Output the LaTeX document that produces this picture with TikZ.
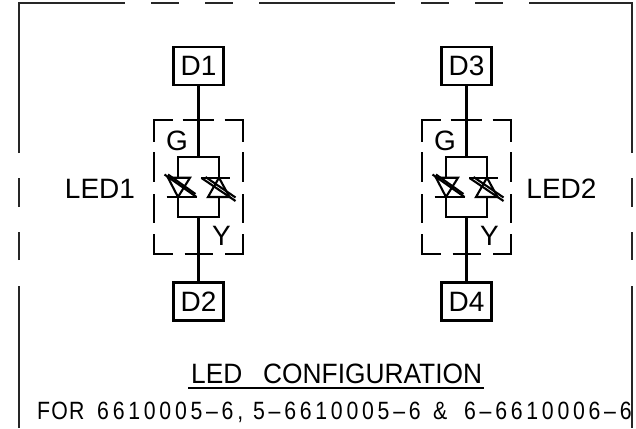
\documentclass[tikz,border=0pt]{standalone}
\usepackage{fontspec}
\setmainfont{Liberation Sans}
\newfontfamily\cadtitle[FakeStretch=0.94]{Liberation Sans}
\newfontfamily\cadsub[FakeStretch=0.85,LetterSpace=15]{Liberation Sans}
\newfontfamily\cadfor[FakeStretch=0.85,LetterSpace=5]{Liberation Sans}
\tikzset{
  wire/.style={draw=black,line width=2.1pt},
  frameline/.style={line width=2.1pt,black!85},
  pinbox/.style={draw=black,line width=2.1pt,minimum width=50pt,minimum height=38pt,inner sep=0pt,font=\fontsize{28}{28}\selectfont},
  lbl/.style={inner sep=0pt,font=\fontsize{28}{28}\selectfont},
  dashedbox/.style={line width=2.1pt,black}
}
\newcommand{\ledcell}[5]{%
 \begin{scope}[shift={(#1,0)}]
  \node[pinbox] (#2) at (0,65.8) {#4};
  \node[pinbox] (#3) at (0,301.5) {#5};
  \coordinate (#2t) at (0,157);
  \coordinate (#2b) at (0,217);
  \draw[wire] (#2.south) -- (#2t);
  \draw[wire] (#3.north) -- (#2b);
  \draw[wire] (-20.5,177.7) -- (-20.5,157) -- (20.5,157) -- (20.5,177.7);
  \draw[wire] (-20.5,197) -- (-20.5,217) -- (20.5,217) -- (20.5,197);
  % left diode
  \draw[wire] (-30.5,177.7) -- (-8.5,177.7) -- (-20.5,197) -- cycle;
  \draw[wire] (-32,197) -- (-1.5,197);
  \draw[wire] (-34,174.5) -- (-2,197);
  \draw[wire] (-30.5,174.5) -- (-3,194);
  % right diode
  \draw[wire] (9.5,197) -- (31,197) -- (20.5,177.7) -- cycle;
  \draw[wire] (2.5,177.7) -- (31,177.7);
  \draw[wire] (3,178) -- (37,201);
  \draw[wire] (7,177) -- (37,197.5);
  % dashed enclosure
  \draw[dashedbox] (-26,120) -- (-44.5,120) -- (-44.5,142);
  \draw[dashedbox] (-16,120) -- (15,120);
  \draw[dashedbox] (26,120) -- (44.5,120) -- (44.5,142);
  \draw[dashedbox] (-44.5,152) -- (-44.5,182) (-44.5,194) -- (-44.5,223);
  \draw[dashedbox] (44.5,152) -- (44.5,182) (44.5,194) -- (44.5,223);
  \draw[dashedbox] (-44.5,234) -- (-44.5,254) -- (-26,254);
  \draw[dashedbox] (44.5,234) -- (44.5,254) -- (26,254);
  \draw[dashedbox] (-14,254) -- (14,254);
  \node[lbl] (#2g) at (-21.5,140.5) {G};
  \node[lbl] (#2y) at (23,236.3) {Y};
 \end{scope}}
\begin{document}
\begin{tikzpicture}[x=1pt,y=-1pt]
\useasboundingbox (0,0) rectangle (636,428);
\ledcell{198.5}{da}{db}{D1}{D2}
\ledcell{466.5}{dc}{dd}{D3}{D4}
\node[lbl] (ledone) at (100,189) {LED1};
\node[lbl] (ledtwo) at (561.5,189) {LED2};
\draw[frameline] (19,428) -- (19,286);
\draw[frameline] (19,260) -- (19,232) (19,207) -- (19,178);
\draw[frameline] (19,153) -- (19,3) -- (125,3);
\draw[frameline] (151,3) -- (179,3) (205,3) -- (233,3) (259,3) -- (395,3) (421,3) -- (449,3) (475,3) -- (503,3);
\draw[frameline] (529,3) -- (632,3) -- (632,153);
\draw[frameline] (632,178) -- (632,207) (632,232) -- (632,260) (632,286) -- (632,428);
\node[lbl,anchor=west,font=\cadtitle\fontsize{28}{28}\selectfont] (title) at (191,374) {\makebox[72pt][l]{LED}CONFIGURATION};
\draw[line width=2.1pt] (title.south west |- 0,388) ++(-3,0) -- (484,388);
\node[lbl,anchor=west,font=\cadsub\fontsize{25}{25}\selectfont] (sub) at (37,412) {\makebox[60pt][l]{\cadfor\fontsize{25}{25}\selectfont FOR}\makebox[156pt][l]{6610005–6,}\makebox[180pt][l]{5–6610005–6}\makebox[31pt][l]{\&}6–6610006–6};
\end{tikzpicture}
\end{document}
